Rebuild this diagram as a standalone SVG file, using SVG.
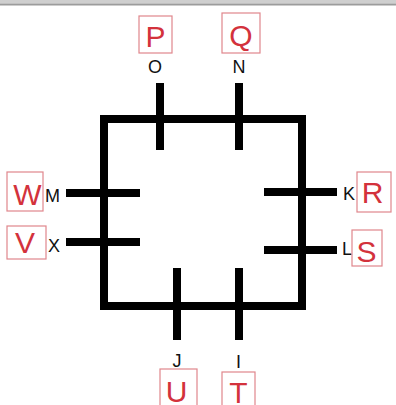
<svg xmlns="http://www.w3.org/2000/svg" width="396" height="405" viewBox="0 0 396 405">
<style>
.ln{stroke:#000;stroke-width:8;fill:none}
.bx{fill:none;stroke:#e0868c;stroke-width:1.2}
.rd{font-family:"Liberation Sans",Arial,sans-serif;font-size:30px;fill:#d3323c;text-anchor:middle}
.bk{font-family:"Liberation Sans",Arial,sans-serif;font-size:18px;fill:#111}
.c{text-anchor:middle}
</style>
<rect x="0" y="0" width="396" height="405" fill="#fff"/>
<rect x="0" y="0" width="396" height="3.5" fill="#cfcfcf"/>
<rect x="0" y="3.5" width="396" height="2" fill="#9c9c9c"/>
<g id="frame"><rect class="ln" x="104" y="119" width="198" height="187"/></g>
<g id="connectors">
<line class="ln" x1="160" y1="83" x2="160" y2="150"/>
<line class="ln" x1="239" y1="83" x2="239" y2="150"/>
<line class="ln" x1="66" y1="193" x2="140" y2="193"/>
<line class="ln" x1="66" y1="242" x2="140" y2="242"/>
<line class="ln" x1="264" y1="192" x2="337" y2="192"/>
<line class="ln" x1="264" y1="250" x2="337" y2="250"/>
<line class="ln" x1="177" y1="268" x2="177" y2="340"/>
<line class="ln" x1="239" y1="268" x2="239" y2="340"/>
</g>
<g id="nodeO"><text class="bk c" x="155" y="73">O</text></g>
<g id="nodeN"><text class="bk c" x="239" y="73">N</text></g>
<g id="nodeM"><text class="bk" x="45" y="202">M</text></g>
<g id="nodeX"><text class="bk" x="48" y="252">X</text></g>
<g id="nodeK"><text class="bk" x="343" y="200">K</text></g>
<g id="nodeL"><text class="bk" x="342" y="255">L</text></g>
<g id="nodeJ"><text class="bk c" x="177" y="367">J</text></g>
<g id="nodeI"><text class="bk c" x="238.5" y="368">I</text></g>
<g id="nodeP"><rect class="bx" x="139" y="16" width="33" height="37"/><text class="rd" x="155.5" y="47">P</text></g>
<g id="nodeQ"><rect class="bx" x="222" y="13" width="38" height="40"/><text class="rd" x="241" y="46">Q</text></g>
<g id="nodeW"><rect class="bx" x="7" y="172" width="36" height="39"/><text class="rd" x="27.5" y="205">W</text></g>
<g id="nodeV"><rect class="bx" x="7" y="226" width="39" height="33"/><text class="rd" x="25" y="253">V</text></g>
<g id="nodeR"><rect class="bx" x="357" y="172" width="34" height="40"/><text class="rd" x="372.5" y="203">R</text></g>
<g id="nodeS"><rect class="bx" x="352" y="230" width="30" height="36"/><text class="rd" x="366.5" y="262">S</text></g>
<g id="nodeU"><rect class="bx" x="160" y="369" width="37" height="40"/><text class="rd" x="176.5" y="402">U</text></g>
<g id="nodeT"><rect class="bx" x="222" y="372" width="33" height="37"/><text class="rd" x="238.5" y="403">T</text></g>
</svg>
